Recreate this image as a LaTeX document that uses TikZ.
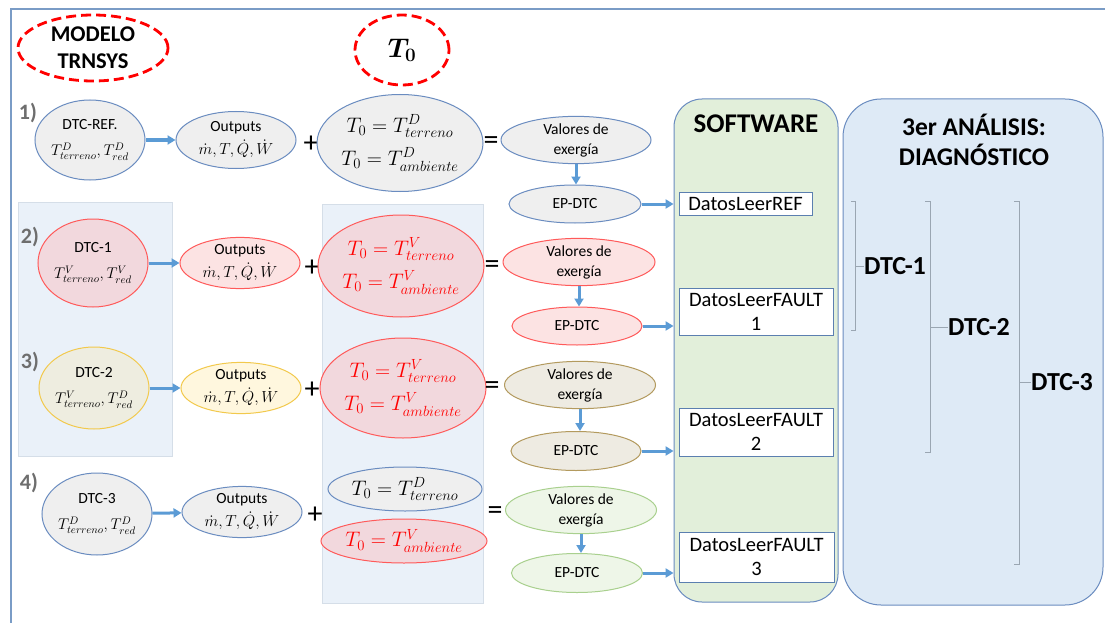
\documentclass[tikz,border=0pt]{standalone}
\usepackage{fix-cm}
\usepackage{amsmath}
\usepackage{fontspec}
\setmainfont{Carlito}
\usetikzlibrary{shapes.geometric,arrows.meta}
\definecolor{bstroke}{HTML}{6A8CC0}
\definecolor{boxblue}{HTML}{5B7FB0}
\definecolor{gfill}{HTML}{EFEFEF}
\definecolor{rstroke}{HTML}{FF5A5A}
\definecolor{rfill}{HTML}{F2D8DD}
\definecolor{rfill2}{HTML}{FCE3E3}
\definecolor{ystroke}{HTML}{F2C94C}
\definecolor{yfill}{HTML}{EEEDE0}
\definecolor{yfill2}{HTML}{FFF7DE}
\definecolor{nstroke}{HTML}{B39A5E}
\definecolor{nfill}{HTML}{EEEBE2}
\definecolor{gstroke}{HTML}{A9D08E}
\definecolor{gnfill}{HTML}{EEF6E8}
\definecolor{arrowblue}{HTML}{5B9BD5}
\definecolor{panel}{HTML}{EAF1F9}
\definecolor{panelline}{HTML}{D5DEE8}
\definecolor{swfill}{HTML}{E2EFDA}
\definecolor{dgfill}{HTML}{DEEAF6}
\definecolor{labelgray}{HTML}{6E6E6E}
\definecolor{bracket}{HTML}{9AA6B2}
\definecolor{eqred}{HTML}{FF0000}
\definecolor{frameblue}{HTML}{7A9CC6}
\tikzset{
 ell/.style={ellipse, inner sep=0pt, align=center, line width=1pt, font=\fontsize{15.5}{20}\selectfont},
 dtcf/.style={font=\fontsize{15.5}{26}\selectfont},
 outf/.style={font=\fontsize{15.5}{23}\selectfont},
 eqf/.style={font=\fontsize{21}{33}\selectfont},
 gr/.style={ell, draw=bstroke, fill=gfill},
 rd/.style={ell, draw=rstroke, fill=rfill2},
 rdk/.style={ell, draw=rstroke, fill=rfill},
 yl/.style={ell, draw=ystroke, fill=yfill2},
 ylk/.style={ell, draw=ystroke, fill=yfill},
 br/.style={ell, draw=nstroke, fill=nfill},
 gn/.style={ell, draw=gstroke, fill=gnfill},
 dashell/.style={ellipse, draw=eqred, dash pattern=on 10pt off 5pt, line width=2.8pt, inner sep=0pt, align=center},
 arr/.style={draw=arrowblue, line width=3pt, -{Triangle[length=8pt,width=9pt]}},
 datos/.style={rectangle, draw=boxblue, fill=white, line width=0.9pt, inner sep=0pt, align=center, font=\fontsize{20.5}{24}\selectfont},
 rowlbl/.style={font=\fontsize{22}{22}\selectfont\bfseries, text=labelgray, inner sep=0pt},
 op/.style={font=\fontsize{30}{30}\selectfont, inner sep=0pt},
 big/.style={font=\fontsize{26}{30}\selectfont\bfseries, inner sep=0pt, align=center},
 brk/.style={draw=bracket, line width=0.9pt},
 redtxt/.style={text=eqred},
}
\begin{document}
\begin{tikzpicture}[x=1pt,y=-1pt]
\useasboundingbox (0,0) rectangle (1105,623);
\fill[white] (0,0) rectangle (1105,623);
% frame
\draw[frameblue, line width=1.5pt] (11,623) -- (11,9) -- (1105,9);
% panels
\draw[panelline, fill=panel, line width=0.6pt] (18,202) rectangle (172,456);
\draw[panelline, fill=panel, line width=0.6pt] (322,204) rectangle (483,603);
% big boxes
\draw[bstroke, fill=swfill, line width=1pt, rounded corners=28pt] (674,99) rectangle (838,602);
\draw[bstroke, fill=dgfill, line width=1pt, rounded corners=38pt] (843,99) rectangle (1103,605);
\node[big, font=\fontsize{27}{30}\selectfont\bfseries] (sw) at (756,124) {SOFTWARE};
\node[big, font=\fontsize{25.5}{30}\selectfont\bfseries] (diag) at (974,140) {3er ANÁLISIS:\\DIAGNÓSTICO};
% header
\node[dashell, minimum width=150, minimum height=66, font=\fontsize{22.5}{27}\selectfont\bfseries] (modelo) at (93,48) {MODELO\\TRNSYS};
\node[dashell, minimum width=94, minimum height=70, font=\fontsize{27}{30}\selectfont] (tzero) at (402,50) {$\boldsymbol{T_0}$};
% row labels
\node[rowlbl] (l1) at (28,113) {1)};
\node[rowlbl] (l2) at (30,237) {2)};
\node[rowlbl] (l3) at (30,362) {3)};
\node[rowlbl] (l4) at (29,483) {4)};
% row 1
\node[gr, dtcf, minimum width=110, minimum height=80] (dref) at (90,140) {DTC-REF.\\ $T^{D}_{terreno},T^{D}_{red}$};
\node[gr, outf, minimum width=120, minimum height=57] (out1) at (236,140) {Outputs\\ \fontsize{16}{19}\selectfont$\dot m,T,\dot Q,\dot W$};
\node[op] (plus1) at (311,144) {+};
\node[gr, eqf, minimum width=154, minimum height=97] (eq1) at (400,143) {$T_0=T^{D}_{terreno}$\\ $T_0=T^{D}_{ambiente}$};
\node[op] (equal1) at (491,143) {=};
\node[gr, minimum width=150, minimum height=45] (val1) at (576,140) {Valores de\\exergía};
\node[gr, minimum width=132, minimum height=38] (ep1) at (575,204) {EP-DTC};
\node[datos, minimum width=133, minimum height=23] (ref) at (745.5,204) {DatosLeerREF};
% row 2
\node[rdk, dtcf, minimum width=110, minimum height=88] (dtc1) at (93,263) {DTC-1\\ $T^{V}_{terreno},T^{V}_{red}$};
\node[rd, outf, minimum width=120, minimum height=50] (out2) at (240,263) {Outputs\\ \fontsize{16}{19}\selectfont$\dot m,T,\dot Q,\dot W$};
\node[op] (plus2) at (312,268) {+};
\node[rdk, eqf, redtxt, minimum width=153, minimum height=102] (eq2) at (401,266) {$T_0=T^{V}_{terreno}$\\ $T_0=T^{V}_{ambiente}$};
\node[op] (equal2) at (492,267) {=};
\node[rd, minimum width=152, minimum height=44] (val2) at (579,262) {Valores de\\exergía};
\node[rd, minimum width=130, minimum height=38] (ep2) at (577,326) {EP-DTC};
\node[datos, minimum width=154, minimum height=47] (fault1) at (756,311.5) {DatosLeerFAULT\\1};
% row 3
\node[ylk, dtcf, minimum width=110, minimum height=82] (dtc2) at (94,388) {DTC-2\\ $T^{V}_{terreno},T^{D}_{red}$};
\node[yl, outf, minimum width=120, minimum height=48] (out3) at (241,388) {Outputs\\ \fontsize{16}{19}\selectfont$\dot m,T,\dot Q,\dot W$};
\node[op] (plus3) at (312,390) {+};
\node[rdk, eqf, redtxt, minimum width=153, minimum height=100] (eq3) at (403,388) {$T_0=T^{V}_{terreno}$\\ $T_0=T^{V}_{ambiente}$};
\node[op] (equal3) at (492,388) {=};
\node[br, minimum width=151, minimum height=45] (val3) at (580,385) {Valores de\\exergía};
\node[br, minimum width=130, minimum height=39] (ep3) at (576,451) {EP-DTC};
\node[datos, minimum width=154, minimum height=48] (fault2) at (756,432) {DatosLeerFAULT\\2};
% row 4
\node[gr, dtcf, minimum width=110, minimum height=82] (dtc3) at (97,514) {DTC-3\\ $T^{D}_{terreno},T^{D}_{red}$};
\node[gr, outf, minimum width=120, minimum height=50] (out4) at (242,512) {Outputs\\ \fontsize{16}{19}\selectfont$\dot m,T,\dot Q,\dot W$};
\node[op] (plus4) at (315,515) {+};
\node[gr, eqf, minimum width=154, minimum height=44] (eq4a) at (405,489) {$T_0=T^{D}_{terreno}$};
\node[rdk, eqf, redtxt, minimum width=156, minimum height=44] (eq4b) at (404,541) {$T_0=T^{V}_{ambiente}$};
\node[op] (equal4) at (495,513) {=};
\node[gn, minimum width=151, minimum height=44] (val4) at (581,510) {Valores de\\exergía};
\node[gn, minimum width=131, minimum height=39] (ep4) at (577,573) {EP-DTC};
\node[datos, minimum width=155, minimum height=50] (fault3) at (756.5,557) {DatosLeerFAULT\\3};
% arrows
\draw[arr] (dref) -- (out1);
\draw[arr] (dtc1) -- (out2);
\draw[arr] (dtc2) -- (out3);
\draw[arr] (dtc3) -- (out4);
\draw[arr] (val1.south) -- (val1.south |- ep1.north);
\draw[arr] (val2.south) -- (val2.south |- ep2.north);
\draw[arr] (val3.south) -- (val3.south |- ep3.north);
\draw[arr] (val4.south) -- (val4.south |- ep4.north);
\draw[arr, shorten >=5pt] (ep1.east) -- (ep1.east -| ref.west);
\draw[arr, shorten >=5pt] (ep2.east) -- (ep2.east -| fault1.west);
\draw[arr, shorten >=5pt] (ep3.east) -- (ep3.east -| fault2.west);
\draw[arr, shorten >=5pt] (ep4.east) -- (ep4.east -| fault3.west);
% brackets
\node[big] (b1) at (895,266) {DTC-1};
\node[big] (b2) at (979,327) {DTC-2};
\node[big] (b3) at (1062,382) {DTC-3};
\draw[brk] (851,201) -- (855,201) -- (855,330) -- (851,330);
\draw[brk] (855,266) -- (b1.west);
\draw[brk] (925,201) -- (930,201) -- (930,452) -- (925,452);
\draw[brk] (930,327) -- (b2.west);
\draw[brk] (1014,201) -- (1019,201) -- (1019,564) -- (1014,564);
\draw[brk] (1019,382) -- (b3.west);
\end{tikzpicture}
\end{document}
